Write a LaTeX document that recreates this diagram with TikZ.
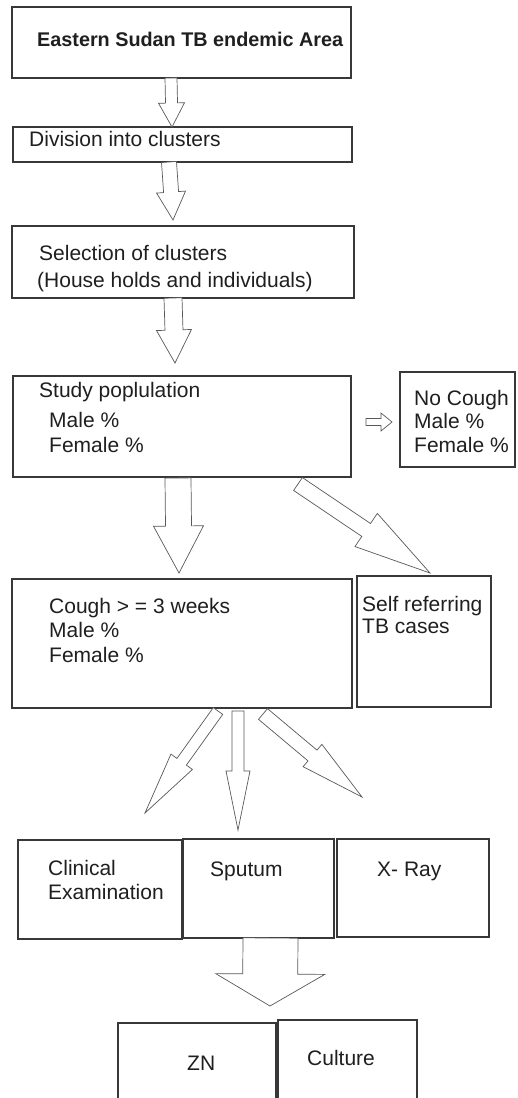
\documentclass[tikz,border=0pt]{standalone}
\usepackage{fontspec}
\setmainfont{Liberation Sans}
\usetikzlibrary{calc}
% block arrow: #1 name, #2 start, #3 tip, #4 shaft half width, #5 head half width, #6 head length
\newcommand\blockarrow[6]{%
  \coordinate (#1h) at ($(#3)!#6pt!(#2)$);
  \draw[blk] ($(#2)!#4pt!90:(#3)$) -- ($(#1h)!#4pt!90:(#3)$) -- ($(#1h)!#5pt!90:(#3)$)
     -- (#3) -- ($(#1h)!#5pt!-90:(#3)$) -- ($(#1h)!#4pt!-90:(#3)$) -- ($(#2)!#4pt!-90:(#3)$) -- cycle;
}
\begin{document}
\begin{tikzpicture}[x=1pt,y=-1pt,
  box/.style={draw=black!78, line width=1.1pt, rectangle, inner sep=0pt, outer sep=0pt, anchor=north west},
  txt/.style={inner sep=0pt, anchor=base west, font=\fontsize{21}{25}\selectfont, text=black!88},
  ttl/.style={txt, font=\fontsize{19.8}{24}\selectfont\bfseries},
  blk/.style={draw=black!65, line width=0.7pt, fill=white, line join=miter}]
\fill[white] (0,0) rectangle (518,1098);
\useasboundingbox (0,0) rectangle (518,1098);
\clip (0,0) rectangle (518,1098);

% boxes
\node[box, minimum width=339pt, minimum height=71pt] (b1) at (12,7) {};
\node[box, minimum width=339pt, minimum height=35pt] (b2) at (13,127) {};
\node[box, minimum width=342pt, minimum height=72pt] (b3) at (12,226) {};
\node[box, minimum width=338pt, minimum height=101pt] (b4) at (13,376) {};
\node[box, minimum width=115pt, minimum height=95pt] (nc) at (400,372) {};
\node[box, minimum width=340pt, minimum height=129pt] (b5) at (12,579) {};
\node[box, minimum width=134pt, minimum height=131pt] (sr) at (357,576) {};
\node[box, minimum width=164pt, minimum height=99pt] (cl) at (18,840) {};
\node[box, minimum width=151pt, minimum height=99pt] (sp) at (183,839) {};
\node[box, minimum width=152pt, minimum height=98pt] (xr) at (337,839) {};
\node[box, minimum width=158pt, minimum height=90pt] (zn) at (118,1023) {};
\node[box, minimum width=139pt, minimum height=95pt] (cu) at (278,1020) {};

% texts
\node[ttl] (t1) at (37,46.7) {Eastern Sudan TB endemic Area};
\node[txt] (t2) at (29,146.7) {Division into clusters};
\node[txt] (t3a) at (39,260.5) {Selection of clusters};
\node[txt] (t3b) at (37,287) {(House holds and individuals)};
\node[txt] (t4a) at (39,397) {Study poplulation};
\node[txt] (t4b) at (49,427) {Male \%};
\node[txt] (t4c) at (49,452.5) {Female \%};
\node[txt] (tn1) at (414,405) {No Cough};
\node[txt] (tn2) at (414,428.5) {Male \%};
\node[txt] (tn3) at (414,452.5) {Female \%};
\node[txt] (t5a) at (49,613) {Cough > = 3 weeks};
\node[txt] (t5b) at (49,637) {Male \%};
\node[txt] (t5c) at (49,662) {Female \%};
\node[txt] (ts1) at (362,611) {Self referring};
\node[txt] (ts2) at (362,633) {TB cases};
\node[txt] (tc1) at (48,875) {Clinical};
\node[txt] (tc2) at (48,899) {Examination};
\node[txt] (tsp) at (210,876) {Sputum};
\node[txt] (txr) at (377,876) {X- Ray};
\node[txt] (tzn) at (187,1070) {ZN};
\node[txt] (tcu) at (307,1065) {Culture};

% arrow end points
\coordinate (a1s) at (171,78);    \coordinate (a1t) at (172,127);
\coordinate (a2s) at (169,162);   \coordinate (a2t) at (173,220);
\coordinate (a3s) at (173,298);   \coordinate (a3t) at (175,363);
\coordinate (a4s) at (366,422);   \coordinate (a4t) at (392,422);
\coordinate (a5s) at (178,478);   \coordinate (a5t) at (179,573);
\coordinate (a6s) at (298,484);   \coordinate (a6t) at (430,573);
\coordinate (a7s) at (218,711);   \coordinate (a7t) at (145,813);
\coordinate (a8s) at (238,711);   \coordinate (a8t) at (238,830);
\coordinate (a9s) at (263,714);   \coordinate (a9t) at (362,797);
\coordinate (a10s) at (270.5,938); \coordinate (a10t) at (270,1006);

% block arrows
\blockarrow{a1}{a1s}{a1t}{6}{13}{24}
\blockarrow{a2}{a2s}{a2t}{7.5}{14.5}{28}
\blockarrow{a3}{a3s}{a3t}{9}{17.5}{33}
\blockarrow{a4}{a4s}{a4t}{3.5}{9}{11}
\blockarrow{a5}{a5s}{a5t}{13}{25}{47}
\blockarrow{a6}{a6s}{a6t}{7.8}{20}{77}
\blockarrow{a7}{a7s}{a7t}{5.8}{13.2}{63}
\blockarrow{a8}{a8s}{a8t}{6}{12}{59}
\blockarrow{a9}{a9s}{a9t}{7}{14.6}{64.6}
\blockarrow{a10}{a10s}{a10t}{27.5}{54.5}{32}
\end{tikzpicture}
\end{document}
